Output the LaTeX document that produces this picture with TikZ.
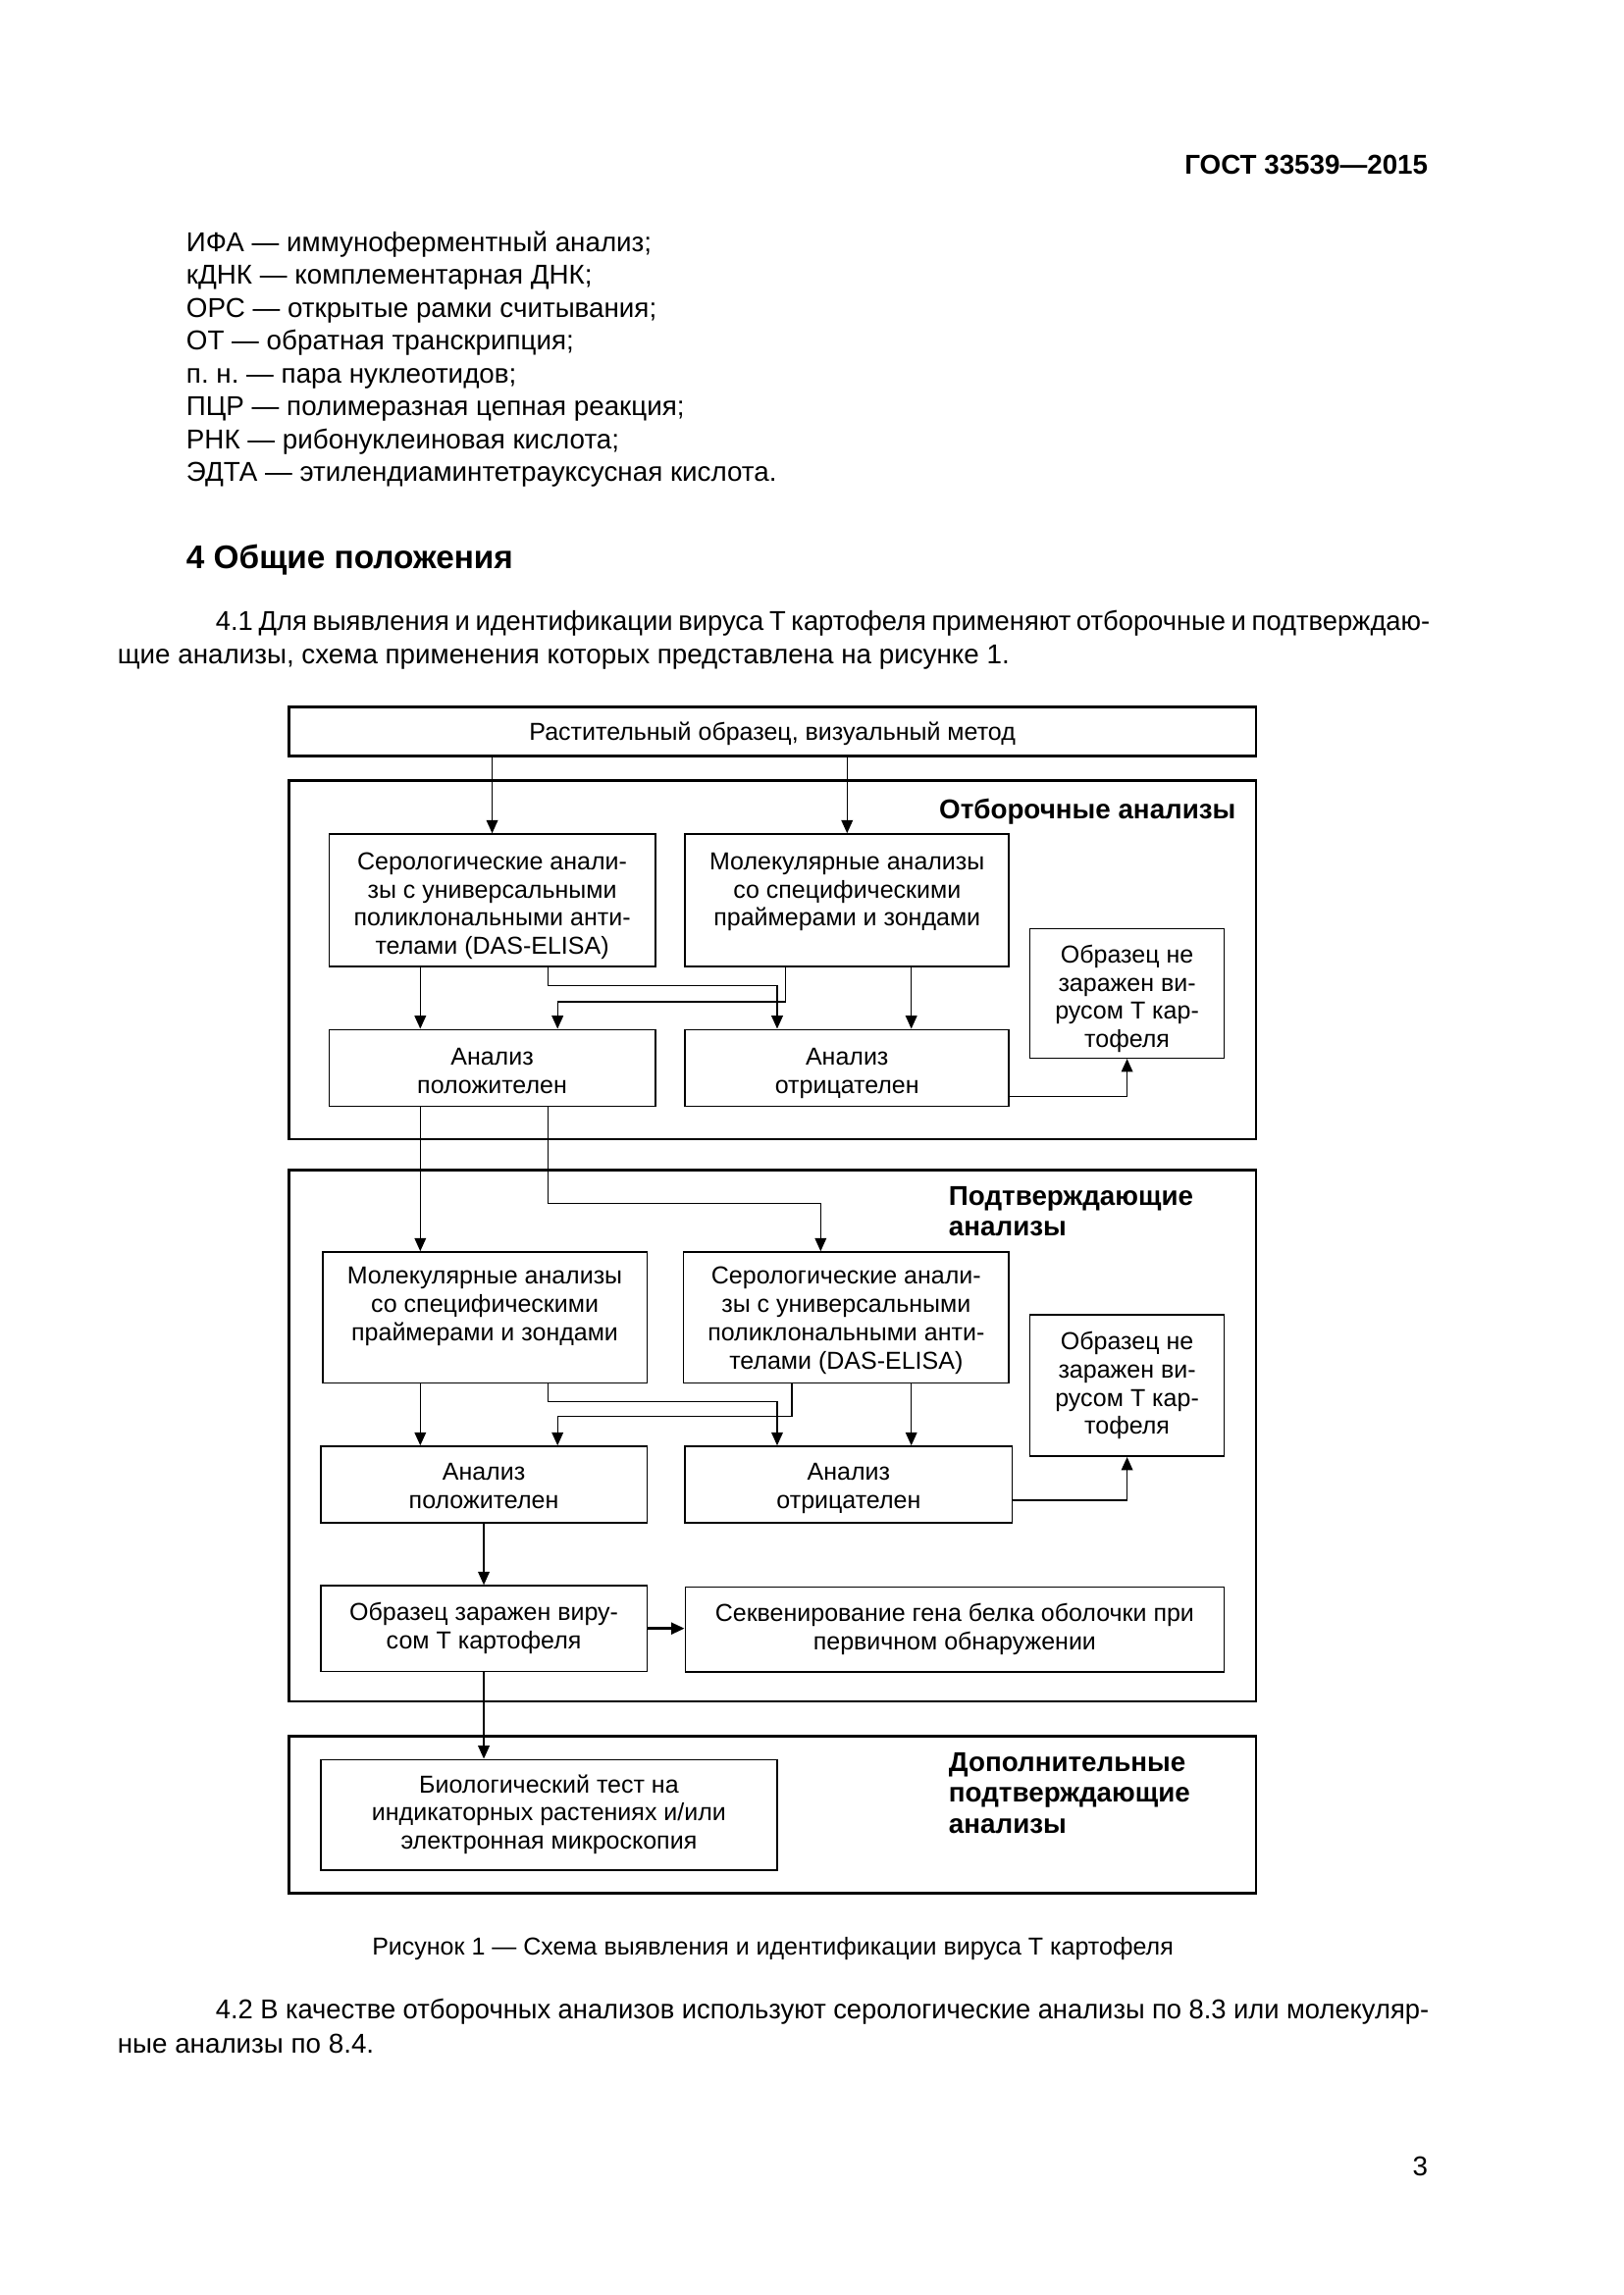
\documentclass[tikz,border=0pt]{standalone}
\usepackage{fontspec}
\setmainfont{Liberation Sans}
\usetikzlibrary{arrows.meta}
\frenchspacing
\newcommand\fitline[1]{\resizebox{445.1pt}{\height}{\spaceskip=0.278em plus 0.1em minus 0.07em\hbox to 452pt{#1}}}
\newcommand\bt[2][10.8pt]{\rule{0pt}{#1}#2\rule[-2.2pt]{0pt}{2.2pt}}
\begin{document}
\begin{tikzpicture}[x=0.36pt,y=-0.36pt,
  bx/.style={draw, line width=0.55pt, align=center, inner sep=0pt, font=\fontsize{9}{10.4}\selectfont},
  grp/.style={draw, line width=1pt, inner sep=0pt, minimum width=354.9pt},
  ttl/.style={align=left, inner sep=0pt, anchor=north west, font=\fontsize{10}{11.3}\selectfont\bfseries},
  arr/.style={line width=0.5pt, -{Triangle[length=4.8pt,width=4.2pt]}},
  bodytxt/.style={inner sep=0pt, anchor=base west, font=\fontsize{10}{12}\selectfont},
]
\useasboundingbox (0,0) rectangle (1654,2339);

% ---- page text ----
\node[inner sep=0pt, anchor=base east, font=\fontsize{10}{12}\selectfont\bfseries] (hdr) at (1455.7,177) {ГОСТ 33539—2015};
\node[bodytxt] (l1) at (189.4,256.0) {ИФА — иммуноферментный анализ;};
\node[bodytxt] (l2) at (189.4,289.5) {кДНК — комплементарная ДНК;};
\node[bodytxt] (l3) at (189.4,323.0) {ОРС — открытые рамки считывания;};
\node[bodytxt] (l4) at (189.4,356.5) {ОТ — обратная транскрипция;};
\node[bodytxt] (l5) at (189.4,390.0) {п. н. — пара нуклеотидов;};
\node[bodytxt] (l6) at (189.4,423.5) {ПЦР — полимеразная цепная реакция;};
\node[bodytxt] (l7) at (189.4,457.0) {РНК — рибонуклеиновая кислота;};
\node[bodytxt] (l8) at (189.4,490.5) {ЭДТА — этилендиаминтетрауксусная кислота.};
\node[inner sep=0pt, anchor=base west, font=\fontsize{12}{14}\selectfont\bfseries] (h4) at (189.4,579) {4 Общие положения};
\node[bodytxt] (p1a) at (219.3,642.4) {\fitline{4.1 Для выявления и идентификации вируса Т картофеля применяют отборочные и подтверждаю-}};
\node[bodytxt] (p1b) at (119.3,676.7) {щие анализы, схема применения которых представлена на рисунке 1.};
\node[inner sep=0pt, anchor=base, font=\fontsize{9}{11}\selectfont] (cap) at (787.5,1992.7) {Рисунок 1 — Схема выявления и идентификации вируса Т картофеля};
\node[bodytxt] (p2a) at (219.3,2057.8) {\fitline{4.2 В качестве отборочных анализов используют серологические анализы по 8.3 или молекуляр-}};
\node[bodytxt] (p2b) at (119.3,2092.1) {ные анализы по 8.4.};
\node[inner sep=0pt, anchor=base east, font=\fontsize{10}{12}\selectfont] (pg) at (1455.7,2217.4) {3};

% ---- diagram frames ----
\node[grp, minimum height=18pt, font=\fontsize{9}{10.4}\selectfont, text height=8pt, text depth=2pt] (top) at (787.15,745.7) {Растительный образец, визуальный метод};
\node[grp, minimum height=131.5pt] (grp1) at (787.15,978.35) {};
\node[grp, minimum height=194.9pt] (grp2) at (787.15,1463.35) {};
\node[grp, minimum height=57.6pt] (grp3) at (787.15,1849.3) {};

\node[ttl, anchor=north east] (t1) at (1260,814) {Отборочные анализы};
\node[ttl] (t2) at (966.4,1208.6) {Подтверждающие\\анализы};
\node[ttl] (t3) at (966.4,1785.8) {Дополнительные\\подтверждающие\\анализы};

% ---- screening ----
\node[bx, minimum width=119.7pt, minimum height=48.6pt] (ser1) at (501.55,917.5) {\bt{Серологические анали-\\зы с универсальными\\поликлональными анти-\\телами (DAS-ELISA)}};
\node[bx, minimum width=118.8pt, minimum height=48.6pt] (mol1) at (863.25,917.5) {\bt{Молекулярные анализы\\со специфическими\\праймерами и зондами\\\mbox{}}};
\node[bx, minimum width=71.2pt, minimum height=47.4pt] (note1) at (1148.6,1012.5) {\bt{Образец не\\заражен ви-\\русом Т кар-\\тофеля}};
\node[bx, minimum width=119.7pt, minimum height=28.1pt] (pos1) at (501.55,1088.3) {\bt{Анализ\\положителен}};
\node[bx, minimum width=118.8pt, minimum height=28.1pt] (neg1) at (863.25,1088.3) {\bt{Анализ\\отрицателен}};

% ---- confirmatory ----
\node[bx, minimum width=119pt, minimum height=48pt] (mol2) at (494.05,1342.65) {\bt[8.8pt]{Молекулярные анализы\\со специфическими\\праймерами и зондами\\\mbox{}}};
\node[bx, minimum width=119.4pt, minimum height=48pt] (ser2) at (862.3,1342.65) {\bt[8.8pt]{Серологические анали-\\зы с универсальными\\поликлональными анти-\\телами (DAS-ELISA)}};
\node[bx, minimum width=71.2pt, minimum height=51.9pt] (note2) at (1148.6,1412.15) {\bt[6.8pt]{Образец не\\заражен ви-\\русом Т кар-\\тофеля}};
\node[bx, minimum width=119.7pt, minimum height=28pt] (pos2) at (493.05,1512.85) {\bt[9.4pt]{Анализ\\положителен}};
\node[bx, minimum width=120pt, minimum height=28pt] (neg2) at (864.9,1512.85) {\bt[9.4pt]{Анализ\\отрицателен}};
\node[bx, minimum width=119.7pt, minimum height=31.4pt] (inf) at (493.05,1659.65) {\bt[6.8pt]{Образец заражен виру-\\сом Т картофеля}};
\node[bx, minimum width=197.7pt, minimum height=31.1pt] (seq) at (972.9,1660.85) {\bt[6.8pt]{Секвенирование гена белка оболочки при\\первичном обнаружении}};

% ---- additional ----
\node[bx, minimum width=167.5pt, minimum height=40.5pt] (bio) at (559.4,1849.5) {\bt[6.8pt]{Биологический тест на\\индикаторных растениях и/или\\электронная микроскопия}};

% ---- lanes ----
\coordinate (xa) at (428.3,0);
\coordinate (xb) at (558.5,0);
\coordinate (xc) at (568.2,0);
\coordinate (xd) at (792,0);
\coordinate (xe) at (800.5,0);
\coordinate (xe2) at (807,0);
\coordinate (xf) at (928.7,0);
\coordinate (xh) at (836.3,0);
\coordinate (h1) at (0,1004.3);
\coordinate (h2) at (0,1021);
\coordinate (h3) at (0,1226.7);
\coordinate (h4) at (0,1428.3);
\coordinate (h5) at (0,1443.3);
\coordinate (hn1) at (0,1117.3);
\coordinate (hn2) at (0,1529);

% ---- connectors ----
\draw[arr] (top.south -| ser1.north) -- (ser1.north);
\draw[arr] (top.south -| mol1.north) -- (mol1.north);
\draw[arr] (ser1.south -| xa) -- (pos1.north -| xa);
\draw[arr] (ser1.south -| xb) |- (xd |- h1) -- (neg1.north -| xd);
\draw[arr] (mol1.south -| xe) |- (xc |- h2) -- (pos1.north -| xc);
\draw[arr] (mol1.south -| xf) -- (neg1.north -| xf);
\draw[arr] (neg1.east |- hn1) -| (note1.south);

\draw[arr] (pos1.south -| xa) -- (mol2.north -| xa);
\draw[arr] (pos1.south -| xb) |- (xh |- h3) -- (ser2.north -| xh);
\draw[arr] (mol2.south -| xa) -- (pos2.north -| xa);
\draw[arr] (mol2.south -| xb) |- (xd |- h4) -- (neg2.north -| xd);
\draw[arr] (ser2.south -| xe2) |- (xc |- h5) -- (pos2.north -| xc);
\draw[arr] (ser2.south -| xf) -- (neg2.north -| xf);
\draw[arr] (neg2.east |- hn2) -| (note2.south);
\draw[arr] (pos2.south) -- (inf.north);
\draw[arr, line width=0.9pt] (inf.east) -- (inf.east -| seq.west);
\draw[arr] (inf.south) -- (inf.south |- bio.north);
\end{tikzpicture}
\end{document}
